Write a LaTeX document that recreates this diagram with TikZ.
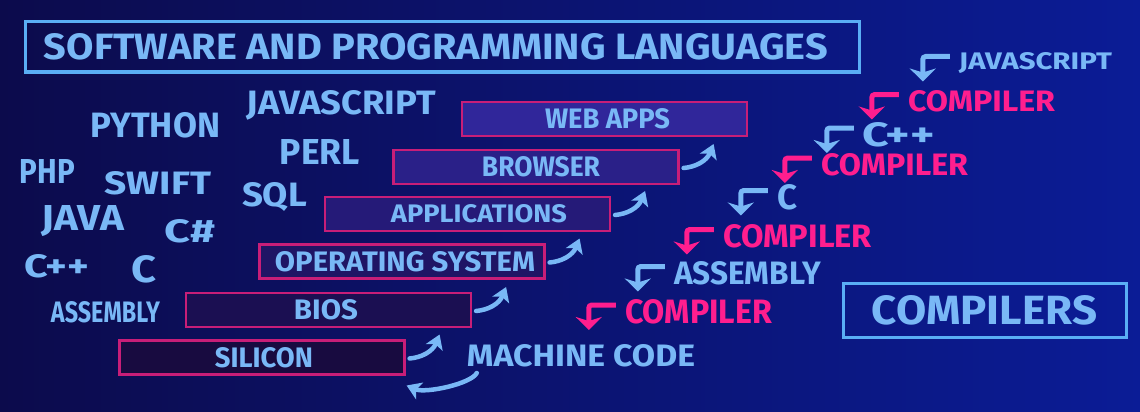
\documentclass[tikz,border=0pt]{standalone}
\usepackage{fontspec}
\setmainfont{Fira Sans}
\usepackage{graphicx}
\usetikzlibrary{calc,arrows.meta}
\definecolor{bgl}{HTML}{0C0B4C}
\definecolor{bgr}{HTML}{0B1C96}
\definecolor{lblue}{HTML}{79B8F6}
\definecolor{tblue}{HTML}{5AAEF5}
\definecolor{hpink}{HTML}{FF1E8E}
\definecolor{mborder}{HTML}{C81E78}
\definecolor{fweb}{HTML}{30269A}
\definecolor{fbro}{HTML}{2A2088}
\definecolor{fapp}{HTML}{251A78}
\definecolor{fos}{HTML}{1F1565}
\definecolor{fbios}{HTML}{1B0F52}
\definecolor{fsil}{HTML}{180B40}
\newcommand{\fitbox}[3]{\resizebox{#1pt}{#2pt}{\bfseries #3}}
\tikzset{
  txt/.style={inner sep=0pt, text=lblue},
  ptxt/.style={inner sep=0pt, text=hpink},
  layer/.style={draw=mborder, line width=2.2pt, inner sep=0pt, text=lblue,
    minimum width=285pt, minimum height=34pt},
  frame/.style={draw=tblue, line width=3pt, inner sep=0pt, text=lblue},
  barrow/.style={lblue, line width=4.5pt, line cap=round, -{Stealth[length=14pt,width=18pt,inset=3.5pt]}},
  glyph/.style={line width=5pt, rounded corners=3pt, -{Stealth[length=13pt,width=26pt,inset=4pt]}}
}
\newcommand{\steparrow}[1]{\draw[barrow] ($(#1.east)+(4,1)$) .. controls ($(#1.east)+(16,0)$) and ($(#1.east)+(27,-6)$) .. ($(#1.east)+(34,-23)$);}
\newcommand{\turnarrow}[2]{\draw[glyph,#2] ($(#1.west)+(-9,-7)$) -- ($(#1.west)+(-36,-7)$) -- ($(#1.west)+(-36,18)$);}
\begin{document}
\begin{tikzpicture}[x=1pt,y=-1pt]
\shade[left color=bgl, right color=bgr] (0,0) rectangle (1140,412);
\useasboundingbox (0,0) rectangle (1140,412);

% title
\node[frame, minimum width=834pt, minimum height=50pt] (title) at (442,47) {\hspace*{-12pt}\fitbox{784}{26}{SOFTWARE AND PROGRAMMING LANGUAGES}};
\node[frame, minimum width=283pt, minimum height=54pt] (compilers) at (984.5,310) {\raisebox{-2pt}{\fitbox{225}{29}{COMPILERS}}};

% languages
\node[txt] (js) at (341.5,105) {\fitbox{189}{24}{JAVASCRIPT}};
\node[txt] (py) at (155.5,125.5) {\fitbox{129}{25}{PYTHON}};
\node[txt] (perl) at (320,151.5) {\fitbox{80}{25}{PERL}};
\node[txt] (php) at (47.5,171) {\fitbox{55}{24}{PHP}};
\node[txt] (swift) at (158,183.5) {\fitbox{106}{23}{SWIFT}};
\node[txt] (sql) at (274.5,196.5) {\fitbox{65}{24}{SQL}};
\node[txt] (java) at (83,221.5) {\fitbox{82}{25}{JAVA}};
\node[txt] (cs) at (190.5,231.5) {\fitbox{51}{23}{C\#}};
\node[txt] (cpp) at (57,266.5) {\fitbox{64}{23}{C++}};
\node[txt] (c) at (143.5,269) {\fitbox{25}{27}{C}};
\node[txt] (asm) at (105.5,312.5) {\fitbox{109}{21}{ASSEMBLY}};

% layers
\node[layer, fill=fweb] (web) at (604.5,119) {\hspace*{6pt}\fitbox{125}{20}{WEB APPS}};
\node[layer, fill=fbro] (bro) at (536,167) {\hspace*{10pt}\fitbox{118}{20}{BROWSER}};
\node[layer, fill=fapp] (app) at (467.5,214) {\hspace*{23pt}\fitbox{176}{18}{APPLICATIONS}};
\node[layer, fill=fos] (os) at (402,261.5) {\hspace*{6pt}\fitbox{260}{20}{OPERATING SYSTEM}};
\node[layer, fill=fbios] (bios) at (328.5,310) {\fitbox{64}{20}{BIOS}\hspace*{5pt}};
\node[layer, fill=fsil] (sil) at (262,357.5) {\hspace*{4pt}\fitbox{98}{20}{SILICON}};

\steparrow{sil}
\steparrow{bios}
\steparrow{os}
\steparrow{app}
\steparrow{bro}

% machine code
\node[txt] (mc) at (581,356) {\fitbox{228}{22}{MACHINE CODE}};
\draw[barrow] ($(mc.west)+(10,17)$) .. controls ($(mc.west)+(4,28)$) and ($(sil.east)+(20,36)$) .. ($(sil.east)+(1,28)$);

% compiler chain
\node[txt] (js2) at (1035.5,63.5) {\fitbox{153}{17}{JAVASCRIPT}};
\node[ptxt] (comp1) at (981.5,101.5) {\fitbox{147}{21}{COMPILER}};
\node[txt] (cpp2) at (899,135) {\fitbox{72}{24}{C++}};
\node[ptxt] (comp2) at (894.5,165) {\fitbox{147}{22}{COMPILER}};
\node[txt] (c2) at (787,197.5) {\fitbox{20}{25}{C}};
\node[ptxt] (comp3) at (797.5,236.5) {\fitbox{149}{23}{COMPILER}};
\node[txt] (asm2) at (747.5,273.5) {\fitbox{147}{23}{ASSEMBLY}};
\node[ptxt] (comp4) at (698.5,312) {\fitbox{147}{24}{COMPILER}};

\turnarrow{js2}{lblue}
\turnarrow{comp1}{hpink}
\turnarrow{cpp2}{lblue}
\turnarrow{comp2}{hpink}
\turnarrow{c2}{lblue}
\turnarrow{comp3}{hpink}
\turnarrow{asm2}{lblue}
\turnarrow{comp4}{hpink}
\end{tikzpicture}
\end{document}
